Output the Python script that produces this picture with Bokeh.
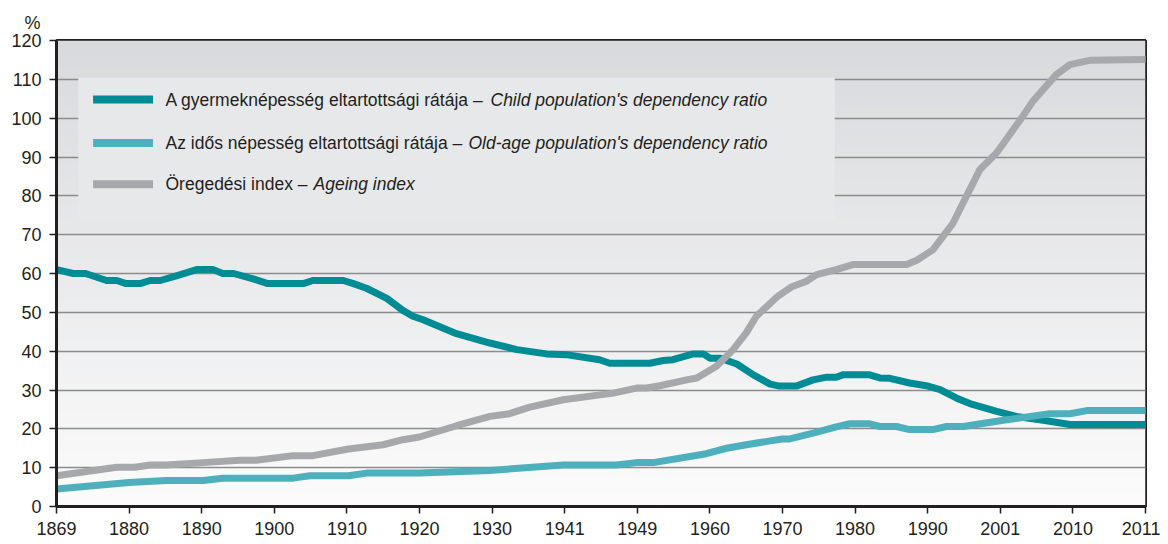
import numpy as np
from bokeh.plotting import figure
from bokeh.models import FixedTicker, Range1d, Label, BoxAnnotation
from bokeh.embed import file_html
from bokeh.resources import INLINE

# ---- data ----
census_years = ["1869", "1880", "1890", "1900", "1910", "1920", "1930", "1941",
                "1949", "1960", "1970", "1980", "1990", "2001", "2010", "2011"]
y_ticks = list(range(0, 121, 10))

# x = position along the census-year axis (0 = 1869 ... 15 = 2011)
child_x = [0, 0.23, 0.40, 0.69, 0.83, 0.96, 1.15, 1.29, 1.43, 1.65, 1.93, 2.16, 2.29, 2.44,
           2.71, 2.91, 3.40, 3.53, 3.95, 4.09, 4.27, 4.55, 4.77, 4.91, 5.05, 5.51, 5.97, 6.34,
           6.75, 7.02, 7.48, 7.62, 8.17, 8.36, 8.49, 8.77, 8.91, 9.0, 9.14, 9.37, 9.60, 9.83,
           9.96, 10.19, 10.42, 10.61, 10.74, 10.83, 11.20, 11.34, 11.48, 11.75, 11.98, 12.17,
           12.40, 12.58, 12.95, 13.22, 13.59, 13.96, 15.0]
child_y = [61.0, 60.0, 60.0, 58.2, 58.2, 57.4, 57.4, 58.2, 58.2, 59.4, 61.0, 61.0, 60.0, 60.0,
           58.6, 57.4, 57.4, 58.2, 58.2, 57.4, 56.2, 53.6, 50.5, 49.0, 48.1, 44.5, 42.1, 40.4,
           39.3, 39.1, 37.8, 36.9, 36.9, 37.6, 37.8, 39.3, 39.3, 38.2, 38.2, 36.7, 33.9, 31.5,
           31.0, 31.0, 32.6, 33.3, 33.3, 33.9, 33.9, 33.1, 33.0, 31.8, 31.1, 30.1,
           27.9, 26.5, 24.5, 23.2, 22.2, 21.1, 21.1]

old_x = [0, 1.0, 1.51, 2.02, 2.29, 3.26, 3.49, 4.02, 4.27, 5.0, 5.97, 6.98, 7.71, 7.99, 8.22,
         8.95, 9.23, 9.50, 9.83, 10.0, 10.10, 10.42, 10.74, 10.93, 11.20, 11.34, 11.57, 11.75,
         12.07, 12.26, 12.49, 13.04, 13.68, 13.96, 14.19, 15.0]
old_y = [4.5, 6.2, 6.7, 6.7, 7.3, 7.3, 7.9, 7.9, 8.6, 8.6, 9.3, 10.7, 10.7, 11.3, 11.3,
         13.6, 15.0, 15.9, 16.9, 17.4, 17.4, 18.9, 20.5, 21.3, 21.3, 20.6, 20.6, 19.8,
         19.8, 20.6, 20.6, 22.2, 23.9, 23.9, 24.7, 24.7]

age_x = [0, 0.83, 1.08, 1.29, 1.51, 2.02, 2.52, 2.75, 3.26, 3.53, 4.02, 4.50, 4.77, 5.0, 5.51,
         5.97, 6.24, 6.52, 6.98, 7.67, 7.99, 8.13, 8.31, 8.68, 8.82, 9.09, 9.32, 9.50, 9.64,
         9.92, 10.12, 10.33, 10.47, 10.74, 10.97, 11.71, 11.85, 12.07, 12.35, 12.44, 12.72,
         12.95, 13.31, 13.45, 13.77, 13.96, 14.23, 15.0]
age_y = [7.9, 10.1, 10.1, 10.7, 10.7, 11.3, 11.9, 11.9, 13.1, 13.1, 14.8, 15.9, 17.2, 17.9, 20.8,
         23.2, 23.9, 25.6, 27.5, 29.2, 30.5, 30.5, 31.1, 32.6, 33.1, 36.1, 40.4, 44.7, 49.0,
         53.9, 56.5, 58.0, 59.7, 61.0, 62.3, 62.3, 63.4, 66.1, 73.0, 76.4, 86.8,
         91.1, 100.5, 104.4, 111.2, 113.8, 114.9, 115.1]

series_hu = ["A gyermeknépesség eltartottsági rátája –",
             "Az idős népesség eltartottsági rátája –",
             "Öregedési index –"]
series_en = ["Child population's dependency ratio",
             "Old-age population's dependency ratio",
             "Ageing index"]
colors = ["#008c95", "#4db0bc", "#a7a8ac"]

FONT = "Liberation Sans"
TXT = "#231f20"

p = figure(width=1160, height=542, output_backend="svg", toolbar_location=None,
           x_range=Range1d(0, 15), y_range=Range1d(0, 120),
           min_border_left=56, min_border_top=40, min_border_right=15, min_border_bottom=36,
           background_fill_color="white", border_fill_color="white")

# "%" unit label as title above the y axis
p.title.text = "%"
p.title.align = "left"
p.title.offset = -32
p.title.standoff = 15
p.title.text_font = FONT
p.title.text_font_size = "18px"
p.title.text_font_style = "normal"
p.title.text_color = TXT

# gradient background
N = 256
top = np.array([217, 218, 221], dtype=float)
bot = np.array([252, 252, 252], dtype=float)
t = np.linspace(0, 1, N)[:, None]
cols = bot + (top - bot) * t
img = np.empty((N, 1), dtype=np.uint32)
view = img.view(dtype=np.uint8).reshape((N, 1, 4))
view[:, 0, 0] = cols[:, 0]
view[:, 0, 1] = cols[:, 1]
view[:, 0, 2] = cols[:, 2]
view[:, 0, 3] = 255
p.image_rgba(image=[img], x=0, y=0, dw=15, dh=120, level="image")

# legend panel
p.add_layout(BoxAnnotation(left=0.30, right=10.72, bottom=73.4, top=110.4,
                           fill_color="#e7e8ea", fill_alpha=1.0, line_alpha=0,
                           level="underlay"))

# series lines
for xs, ys, c in [(child_x, child_y, colors[0]), (old_x, old_y, colors[1]), (age_x, age_y, colors[2])]:
    p.line(xs, ys, line_color=c, line_width=7, line_join="round", line_cap="round")

# legend entries
row_y = [104.8, 93.6, 83.0]
it_off = [434, 412, 257]
for k in range(3):
    p.segment(x0=[0.504], y0=[row_y[k]], x1=[1.33], y1=[row_y[k]],
              line_color=colors[k], line_width=8, line_cap="butt")
    p.add_layout(Label(x=0, y=row_y[k], x_offset=109, text=series_hu[k],
                       text_font=FONT, text_font_size="17.5px", text_color=TXT,
                       text_baseline="middle"))
    p.add_layout(Label(x=0, y=row_y[k], x_offset=it_off[k], text=series_en[k],
                       text_font=FONT, text_font_size="17.5px", text_color=TXT,
                       text_font_style="italic", text_baseline="middle"))

# axes
p.xaxis.ticker = FixedTicker(ticks=list(range(len(census_years))))
p.xaxis.major_label_overrides = {i: y for i, y in enumerate(census_years)}
p.yaxis.ticker = FixedTicker(ticks=y_ticks)
for ax in (p.xaxis, p.yaxis):
    ax.axis_line_color = TXT
    ax.axis_line_width = 3
    ax.major_tick_line_color = TXT
    ax.major_tick_line_width = 1.5
    ax.major_tick_out = 7
    ax.major_tick_in = 0
    ax.minor_tick_line_color = None
    ax.major_label_text_font = FONT
    ax.major_label_text_font_size = "18px"
    ax.major_label_text_color = TXT
p.yaxis.major_label_standoff = 8
p.xaxis.major_label_standoff = 8

p.xgrid.grid_line_color = None
p.ygrid.ticker = FixedTicker(ticks=y_ticks)
p.ygrid.grid_line_color = "#8c8c8c"
p.ygrid.grid_line_width = 1.5

p.outline_line_color = TXT
p.outline_line_width = 3
p.outline_line_alpha = 1.0

open("out.html", "w").write(file_html(p, INLINE))
